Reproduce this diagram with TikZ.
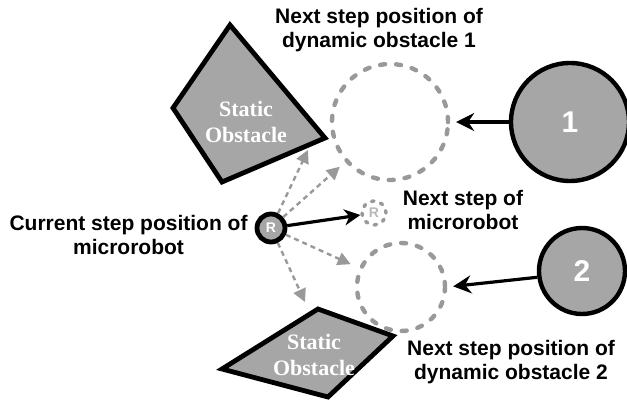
\documentclass[tikz,border=0pt]{standalone}
\usepackage{fontspec}
\setmainfont{Liberation Serif}
\setsansfont{Liberation Sans}
\usepackage{tikz}
\usetikzlibrary{positioning,arrows.meta}
\definecolor{obst}{HTML}{A6A6A6}
\definecolor{ghostgray}{HTML}{999999}

\begin{document}
\begin{tikzpicture}[x=0.5pt,y=-0.5pt,every node/.style={font=\sffamily\bfseries\fontsize{10.5}{12}\selectfont}]
    \tikzstyle{dyn}=[circle,draw,line width=2.2pt,fill=obst,text=white,inner sep=0pt,
                     font=\sffamily\bfseries\fontsize{15}{15}\selectfont];
    \tikzstyle{ghost}=[circle,draw=ghostgray,line width=2.2pt,dash pattern=on 2.5pt off 5.5pt,
                       line cap=round,inner sep=0pt];
    \tikzstyle{rob}=[circle,draw,line width=2.4pt,fill=obst,text=white,minimum size=14pt,inner sep=0pt,
                     font=\sffamily\bfseries\fontsize{7}{7}\selectfont];
    \tikzstyle{wall}=[draw,line width=2.4pt,fill=obst,line join=miter];
    \tikzstyle{walltext}=[text=white,align=center,font=\rmfamily\bfseries\fontsize{11}{13}\selectfont];
    \tikzstyle{move}=[-{Stealth[length=9pt,width=9pt,inset=3pt]},line width=1.6pt];
    \tikzstyle{maybe}=[-{Triangle[length=6.5pt,width=6.5pt]},draw=ghostgray,line width=1.2pt,
                       dash pattern=on 2.5pt off 2pt];
    \useasboundingbox (0,0) rectangle (627,401);
    % --- static obstacles ---
    \draw[wall] (230,25) -- (173,108) -- (222,182) -- (325,138) -- cycle;
    \node[walltext] (st1) at (246,122) {Static\\Obstacle};
    \draw[wall] (318,309) -- (393,336) -- (328,397) -- (222,369) -- cycle;
    \node[walltext] (st2) at (314,355) {Static\\Obstacle};
    \coordinate (s1) at (308,150);
    \coordinate (s2) at (305,302);
    % --- dynamic obstacles and their next steps ---
    \node[dyn,minimum size=59pt] (d1) at (570,122) {1};
    \node[dyn,minimum size=43pt] (d2) at (582,271) {2};
    \node[ghost,minimum size=58pt] (g1) at (390,122) {};
    \node[ghost,minimum size=44pt] (g2) at (401,287) {};
    \draw[move,shorten >=3pt] (d1.west) -- (g1.east);
    \draw[move,shorten >=3pt] (d2.188) -- (g2.east);
    % --- microrobot ---
    \node[rob] (r) at (271,228) {R};
    \node[circle,draw=ghostgray,line width=1.8pt,dash pattern=on 1.2pt off 3.5pt,line cap=round,
          minimum size=12pt,inner sep=0pt,text=obst!80,
          font=\sffamily\bfseries\fontsize{7}{7}\selectfont] (rg) at (374,213) {R};
    \draw[move,-{Stealth[length=8pt,width=8pt,inset=2.5pt]}] (r) -- (rg);
    \draw[maybe] (r) -- (s1);
    \draw[maybe,shorten >=3.5pt] (r) -- (g1);
    \draw[maybe,shorten >=4.5pt] (r) -- (g2);
    \draw[maybe] (r) -- (s2);
    % --- labels ---
    \node[align=center] (l1) at (379,30) {Next step position of\\dynamic obstacle 1};
    \node[align=center,right=4pt of rg,yshift=1.5pt] (l2) {Next step of\\microrobot};
    \node[align=center,left=0pt of r,yshift=-3.5pt] (l3) {Current step position of\\microrobot};
    \node[align=center] (l4) at (511,362) {Next step position of\\dynamic obstacle 2};
\end{tikzpicture}
\end{document}
